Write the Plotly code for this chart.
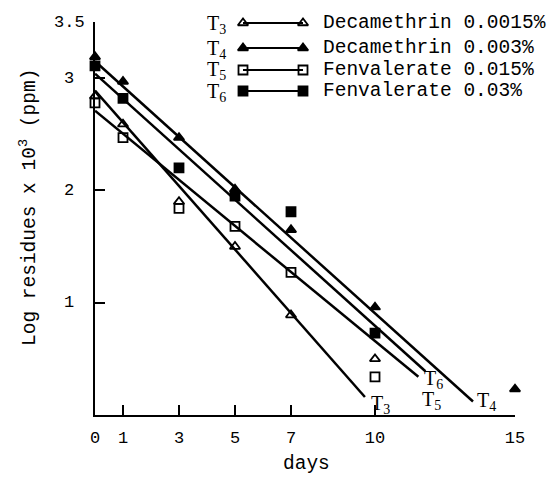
import plotly.graph_objects as go

# ---------------- data ----------------
days = [0, 1, 3, 5, 7, 10]
days_t4 = [0, 1, 3, 5, 7, 10, 15]
t3_vals = [2.84, 2.59, 1.90, 1.50, 0.89, 0.50]
t4_vals = [3.19, 2.97, 2.47, 2.01, 1.65, 0.96, 0.23]
t5_vals = [2.78, 2.47, 1.84, 1.68, 1.27, 0.34]
t6_vals = [3.11, 2.82, 2.20, 1.95, 1.81, 0.73]

# fitted regression lines: start / end points
t3_fit_x = [0, 9.64]
t3_fit_y = [2.89, 0.16]
t4_fit_x = [0, 13.5]
t4_fit_y = [3.15, 0.12]
t5_fit_x = [0, 11.55]
t5_fit_y = [2.71, 0.34]
t6_fit_x = [0, 11.8]
t6_fit_y = [3.04, 0.39]

series_names = ["3", "4", "5", "6"]
legend_texts = ["Decamethrin 0.0015%", "Decamethrin 0.003%",
                "Fenvalerate 0.015%", "Fenvalerate 0.03%"]

x_ticks = [0, 1, 3, 5, 7, 10, 15]
y_ticks = [1, 2, 3, 3.5]
y_tick_text = ["1", "2", "3", "3.5"]

# ---------------- layout constants ----------------
W, H = 555, 478
L, R, T, B = 95, 40, 22, 63
PX0, PX1 = L, W - R
PY0, PY1 = T, H - B

MONO = "Liberation Mono"
SERIF = "Liberation Serif"
TXT = 19.5

symbols = ["triangle-up-open", "triangle-up", "square-open", "square"]

fig = go.Figure()

def add_series(xs, ys, fx, fy, sym):
    fig.add_trace(go.Scatter(x=fx, y=fy, mode="lines",
                             line=dict(color="black", width=2.5),
                             showlegend=False, hoverinfo="skip"))
    fig.add_trace(go.Scatter(x=xs, y=ys, mode="markers",
                             marker=dict(symbol=sym, size=9, color="black",
                                         line=dict(color="black", width=1.8)),
                             showlegend=False, cliponaxis=False))

add_series(days, t3_vals, t3_fit_x, t3_fit_y, symbols[0])
add_series(days_t4, t4_vals, t4_fit_x, t4_fit_y, symbols[1])
add_series(days, t5_vals, t5_fit_x, t5_fit_y, symbols[2])
add_series(days, t6_vals, t6_fit_x, t6_fit_y, symbols[3])

def pax(px):
    return (px - PX0) / (PX1 - PX0)

def pay(py):
    return (PY1 - py) / (PY1 - PY0)

# ---------------- legend ----------------
leg_rows = [23, 48, 70, 91]
leg_x0, leg_x1 = 243, 303
shapes = []
for i in range(4):
    shapes.append(dict(type="line", xref="paper", yref="paper",
                       x0=pax(leg_x0), x1=pax(leg_x1),
                       y0=pay(leg_rows[i]), y1=pay(leg_rows[i]),
                       line=dict(color="black", width=2)))
    fig.add_trace(go.Scatter(x=[leg_x0, leg_x1], y=[leg_rows[i], leg_rows[i]],
                             xaxis="x2", yaxis="y2", mode="markers",
                             marker=dict(symbol=symbols[i], size=9, color="black",
                                         line=dict(color="black", width=1.8)),
                             showlegend=False, cliponaxis=False, hoverinfo="skip"))

annotations = []
for i in range(4):
    annotations.append(dict(x=pax(205), y=pay(leg_rows[i] + 1), xref="paper", yref="paper",
                            text="T<sub>" + series_names[i] + "</sub>", showarrow=False,
                            xanchor="left", yanchor="middle",
                            font=dict(family=SERIF, size=20, color="black")))
    annotations.append(dict(x=pax(321), y=pay(leg_rows[i]), xref="paper", yref="paper",
                            text=legend_texts[i], showarrow=False,
                            xanchor="left", yanchor="middle",
                            font=dict(family=MONO, size=TXT, color="black")))

# line end labels
end_labels = [("3", 369, 404), ("4", 475, 401), ("5", 420, 400), ("6", 422, 379)]
for name, px, py in end_labels:
    annotations.append(dict(x=pax(px), y=pay(py), xref="paper", yref="paper",
                            text="T<sub>" + name + "</sub>", showarrow=False,
                            xanchor="left", yanchor="middle",
                            font=dict(family=SERIF, size=20, color="black")))

# y tick labels (centered)
for v, t in zip(y_ticks, y_tick_text):
    annotations.append(dict(x=pax(69), xref="paper", y=v, yref="y",
                            text=t, showarrow=False, xanchor="center", yanchor="middle",
                            font=dict(family=MONO, size=17, color="black")))

# axis titles
annotations.append(dict(x=pax(28), y=pay(208), xref="paper", yref="paper",
                        text="Log residues x 10<sup>3</sup> (ppm)", textangle=-90,
                        showarrow=False, xanchor="center", yanchor="middle",
                        font=dict(family=MONO, size=TXT, color="black")))
annotations.append(dict(x=pax(306), y=pay(464), xref="paper", yref="paper",
                        text="days", showarrow=False, xanchor="center", yanchor="middle",
                        font=dict(family=MONO, size=TXT, color="black")))

fig.update_layout(
    width=W, height=H,
    margin=dict(l=L, r=R, t=T, b=B, pad=0),
    paper_bgcolor="white", plot_bgcolor="white",
    annotations=annotations,
    shapes=shapes,
    xaxis=dict(range=[0, 15], showline=True, linecolor="black", linewidth=2,
               ticks="inside", ticklen=10, tickwidth=1.5, tickcolor="black",
               tickvals=x_ticks, ticktext=[str(v) for v in x_ticks],
               tickfont=dict(family=MONO, size=17, color="black"),
               ticklabelstandoff=6,
               showgrid=False, zeroline=False, fixedrange=True),
    yaxis=dict(range=[0, 3.5], showline=True, linecolor="black", linewidth=2,
               ticks="inside", ticklen=10, tickwidth=1.5, tickcolor="black",
               tickvals=y_ticks, showticklabels=False,
               showgrid=False, zeroline=False, fixedrange=True),
    xaxis2=dict(range=[PX0, PX1], overlaying="x", visible=False, fixedrange=True),
    yaxis2=dict(range=[PY1, PY0], overlaying="y", visible=False, fixedrange=True),
)

fig.write_html("out.html")
